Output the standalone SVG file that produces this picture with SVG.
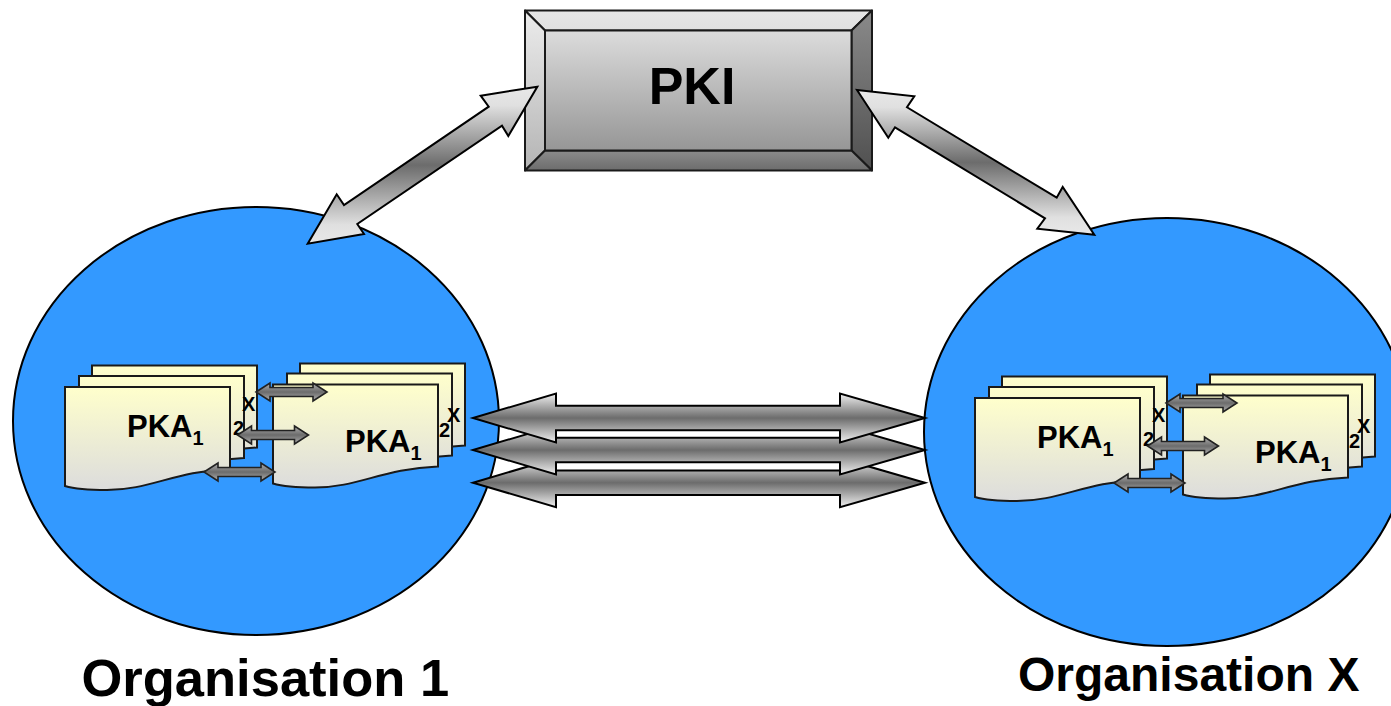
<svg xmlns="http://www.w3.org/2000/svg" width="1391" height="706" viewBox="0 0 1391 706">
<style>
text{font-family:"Liberation Sans",Arial,sans-serif;font-weight:bold;fill:#000}
.org{fill:#3399ff;stroke:#000;stroke-width:2}
.doc{fill:url(#docG);stroke:#1a1a1a;stroke-width:2}
.bev{stroke:#1a1a1a;stroke-width:2;stroke-linejoin:round}
.big{fill:url(#arrG);stroke:#000;stroke-width:2;stroke-linejoin:miter}
.diag{fill:url(#diagG);stroke:#000;stroke-width:2;stroke-linejoin:miter}
.small{fill:url(#smG);stroke:#222;stroke-width:1.6}
.pka{font-size:31px}
.sub{font-size:20px}
.x{font-size:20px}
.two{font-size:20px}
.title{font-size:52.500px}
</style>
<defs>
<linearGradient id="docG" x1="0" y1="0" x2="0" y2="1"><stop offset="0" stop-color="#ffffcc"/><stop offset="1" stop-color="#dcdcdc"/></linearGradient>
<linearGradient id="arrG" x1="0" y1="0" x2="0" y2="1"><stop offset="0" stop-color="#f0f0f0"/><stop offset=".5" stop-color="#6c6c6c"/><stop offset="1" stop-color="#f0f0f0"/></linearGradient>
<linearGradient id="diagG" x1="0" y1="0" x2="0" y2="1"><stop offset="0" stop-color="#e8e8e8"/><stop offset=".12" stop-color="#e0e0e0"/><stop offset=".5" stop-color="#6c6c6c"/><stop offset=".88" stop-color="#e0e0e0"/><stop offset="1" stop-color="#e8e8e8"/></linearGradient>
<linearGradient id="smG" x1="0" y1="0" x2="0" y2="1"><stop offset="0" stop-color="#b0b0b0"/><stop offset=".5" stop-color="#6c6c6c"/><stop offset="1" stop-color="#b0b0b0"/></linearGradient>
<linearGradient id="g1" x1="0" y1="0" x2="0" y2="1"><stop offset="0" stop-color="#e6e6e6"/><stop offset="1" stop-color="#e0e0e0"/></linearGradient>
<linearGradient id="g2" x1="0" y1="0" x2="0" y2="1"><stop offset="0" stop-color="#ececec"/><stop offset="1" stop-color="#b4b4b4"/></linearGradient>
<linearGradient id="g3" x1="0" y1="0" x2="0" y2="1"><stop offset="0" stop-color="#8a8a8a"/><stop offset="1" stop-color="#505050"/></linearGradient>
<linearGradient id="g4" x1="0" y1="0" x2="0" y2="1"><stop offset="0" stop-color="#8c8c8c"/><stop offset="1" stop-color="#6c6c6c"/></linearGradient>
<linearGradient id="g5" x1="0" y1="0" x2="0" y2="1"><stop offset="0" stop-color="#dcdcdc"/><stop offset="1" stop-color="#969696"/></linearGradient>
<path id="page" d="M0 0H165V82C110 84 85 103 42 103C25 103 10 102 0 99Z"/>
<path id="sa" d="M0 0L14 -9V-4.500H57V-9L71 0L57 9V4.500H14V9Z"/>
<path id="ba" d="M0 0L83 -24.500V-12.300H367V-24.500L452 0L367 24.500V12.300H83V24.500Z"/>
</defs>

<g id="org1">
<ellipse class="org" cx="256" cy="421" rx="243" ry="214"/>
</g>
<g id="orgX">
<ellipse class="org" cx="1167" cy="432" rx="243" ry="214"/>
</g>

<g id="org1-docs">
<use href="#page" class="doc" x="92" y="365.500"/>
<use href="#page" class="doc" x="79" y="376"/>
<use href="#page" class="doc" x="65" y="387"/>
<use href="#page" class="doc" x="300" y="363.500"/>
<use href="#page" class="doc" x="287" y="373.500"/>
<use href="#page" class="doc" x="273" y="384.500"/>
<text class="x" x="242" y="411">X</text>
<text class="two" x="233" y="435">2</text>
<text class="pka" x="127" y="437">PKA<tspan class="sub" dy="8">1</tspan></text>
<text class="x" x="447" y="422">X</text>
<text class="two" x="439" y="437">2</text>
<text class="pka" x="345" y="452">PKA<tspan class="sub" dy="8">1</tspan></text>
</g>

<g id="orgX-docs" transform="translate(910 11)">
<use href="#page" class="doc" x="92" y="365.500"/>
<use href="#page" class="doc" x="79" y="376"/>
<use href="#page" class="doc" x="65" y="387"/>
<use href="#page" class="doc" x="300" y="363.500"/>
<use href="#page" class="doc" x="287" y="373.500"/>
<use href="#page" class="doc" x="273" y="384.500"/>
<text class="x" x="242" y="411">X</text>
<text class="two" x="233" y="435">2</text>
<text class="pka" x="127" y="437">PKA<tspan class="sub" dy="8">1</tspan></text>
<text class="x" x="447" y="422">X</text>
<text class="two" x="439" y="437">2</text>
<text class="pka" x="345" y="452">PKA<tspan class="sub" dy="8">1</tspan></text>
</g>

<g id="pki">
<polygon class="bev" fill="url(#g1)" points="525,10.500 872,10.500 851.500,30.500 545,30.500"/>
<polygon class="bev" fill="url(#g2)" points="525,10.500 545,30.500 545,150.500 525,170.500"/>
<polygon class="bev" fill="url(#g3)" points="872,10.500 872,170.500 851.500,150.500 851.500,30.500"/>
<polygon class="bev" fill="url(#g4)" points="525,170.500 545,150.500 851.500,150.500 872,170.500"/>
<rect class="bev" fill="url(#g5)" x="545" y="30.500" width="306.500" height="120"/>
<text x="692" y="104" font-size="52" text-anchor="middle">PKI</text>
</g>

<g id="connectors">
<use href="#ba" class="big" x="473" y="482.700"/>
<use href="#ba" class="big" x="473" y="450"/>
<use href="#ba" class="big" x="473" y="418"/>
<polygon class="diag" points="537.300,86.700 480.700,95.700 488.700,106.700 344,205 336.700,194.300 307.700,243.700 364,234 357.300,224 502,125.700 508.300,136"/>
<polygon class="diag" points="857,90 914.300,96.300 907,107.300 1056.700,197.700 1062.700,187 1094.300,234.700 1037.300,228.700 1045,218.300 895,127.300 888.300,137.700"/>
<use href="#sa" class="small" x="256" y="392"/>
<use href="#sa" class="small" x="237.500" y="435"/>
<use href="#sa" class="small" x="204" y="472"/>
<use href="#sa" class="small" x="1166" y="403"/>
<use href="#sa" class="small" x="1147.500" y="446"/>
<use href="#sa" class="small" x="1114" y="483"/>
</g>

<g id="labels">
<text class="title" x="81.500" y="696">Organisation 1</text>
<text x="1018" y="691" font-size="48">Organisation X</text>
</g>
</svg>
